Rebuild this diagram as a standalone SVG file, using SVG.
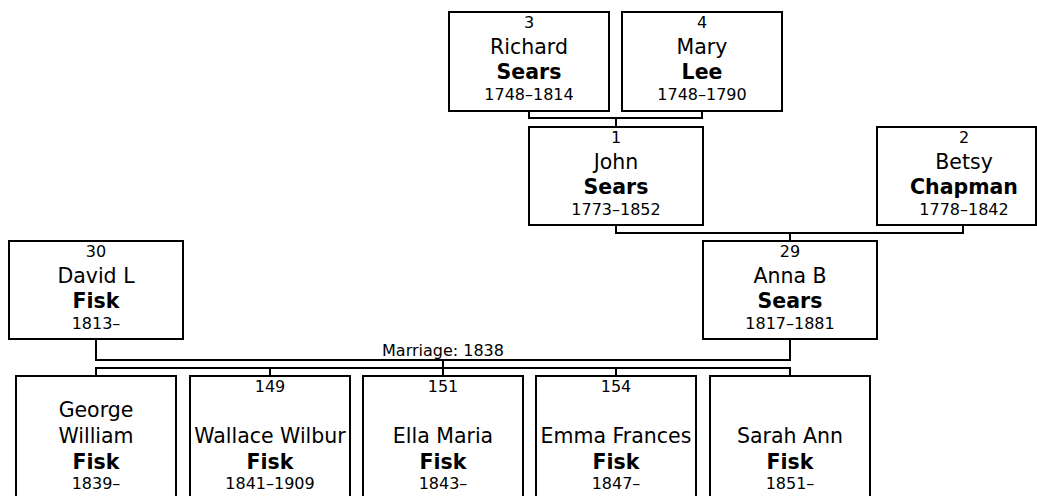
<svg xmlns="http://www.w3.org/2000/svg" width="1037" height="496" viewBox="0 0 1037 496">
<style>
.box{fill:#fff;stroke:#000;stroke-width:2}
.ln{fill:none;stroke:#000;stroke-width:2}
text{font-family:"DejaVu Sans",Verdana,sans-serif;fill:#000;text-anchor:middle}
.s{font-size:16px}
.n{font-size:20.5px}
.b{font-size:20.5px;font-weight:bold}
</style>
<rect width="1037" height="496" fill="#fff"/>
<g id="connectors">
<path class="ln" d="M529 111V118H702V111M616 118V127"/>
<path class="ln" d="M616 225V233H963V225M790 233V241"/>
<path class="ln" d="M96 339V360H790V339"/>
<path class="ln" d="M443 360V368M96 376V368H790V376M270 368V376M443 368V376M616 368V376"/>
<text class="s" x="443" y="356">Marriage: 1838</text>
</g>
<g id="p3">
<rect class="box" x="449" y="12" width="160" height="99"/>
<text class="s" x="529" y="28">3</text>
<text class="n" x="529" y="54">Richard</text>
<text class="b" x="529" y="79">Sears</text>
<text class="s" x="529" y="100">1748–1814</text>
</g>
<g id="p4">
<rect class="box" x="622" y="12" width="160" height="99"/>
<text class="s" x="702" y="28">4</text>
<text class="n" x="702" y="54">Mary</text>
<text class="b" x="702" y="79">Lee</text>
<text class="s" x="702" y="100">1748–1790</text>
</g>
<g id="p1">
<rect class="box" x="529" y="127" width="174" height="98"/>
<text class="s" x="616" y="143">1</text>
<text class="n" x="616" y="169">John</text>
<text class="b" x="616" y="194">Sears</text>
<text class="s" x="616" y="215">1773–1852</text>
</g>
<g id="p2">
<rect class="box" x="877" y="127" width="159" height="98"/>
<text class="s" x="964" y="143">2</text>
<text class="n" x="964" y="169">Betsy</text>
<text class="b" x="964" y="194">Chapman</text>
<text class="s" x="964" y="215">1778–1842</text>
</g>
<g id="p30">
<rect class="box" x="9" y="241" width="174" height="98"/>
<text class="s" x="96" y="257">30</text>
<text class="n" x="96" y="283">David L</text>
<text class="b" x="96" y="308">Fisk</text>
<text class="s" x="96" y="329">1813–</text>
</g>
<g id="p29">
<rect class="box" x="703" y="241" width="174" height="98"/>
<text class="s" x="790" y="257">29</text>
<text class="n" x="790" y="283">Anna B</text>
<text class="b" x="790" y="308">Sears</text>
<text class="s" x="790" y="329">1817–1881</text>
</g>
<g id="c1">
<rect class="box" x="16" y="376" width="160" height="130"/>
<text class="n" x="96" y="417">George</text>
<text class="n" x="96" y="443">William</text>
<text class="b" x="96" y="469">Fisk</text>
<text class="s" x="96" y="489">1839–</text>
</g>
<g id="p149">
<rect class="box" x="190" y="376" width="160" height="130"/>
<text class="s" x="270" y="392">149</text>
<text class="n" x="270" y="443">Wallace Wilbur</text>
<text class="b" x="270" y="469">Fisk</text>
<text class="s" x="270" y="489">1841–1909</text>
</g>
<g id="p151">
<rect class="box" x="363" y="376" width="160" height="130"/>
<text class="s" x="443" y="392">151</text>
<text class="n" x="443" y="443">Ella Maria</text>
<text class="b" x="443" y="469">Fisk</text>
<text class="s" x="443" y="489">1843–</text>
</g>
<g id="p154">
<rect class="box" x="536" y="376" width="160" height="130"/>
<text class="s" x="616" y="392">154</text>
<text class="n" x="616" y="443">Emma Frances</text>
<text class="b" x="616" y="469">Fisk</text>
<text class="s" x="616" y="489">1847–</text>
</g>
<g id="c5">
<rect class="box" x="710" y="376" width="160" height="130"/>
<text class="n" x="790" y="443">Sarah Ann</text>
<text class="b" x="790" y="469">Fisk</text>
<text class="s" x="790" y="489">1851–</text>
</g>
</svg>
